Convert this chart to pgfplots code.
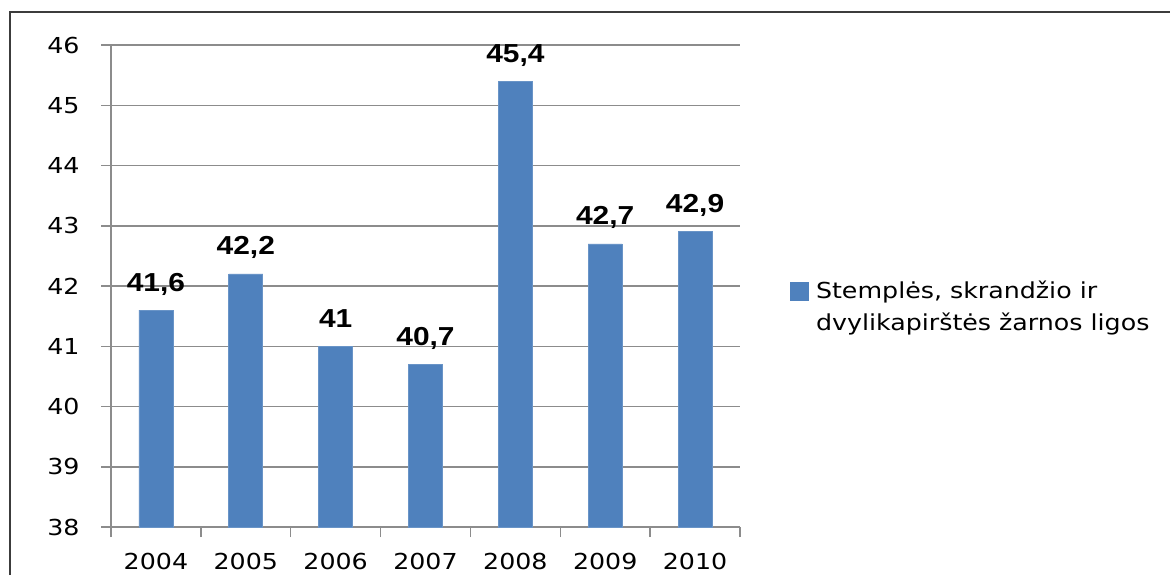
\documentclass[border=0pt]{standalone}
\usepackage{fontspec}
\setmainfont{DejaVu Sans}[FakeStretch=1.15]
\newfontfamily\lblfont{Liberation Sans}[FakeStretch=1.15]
\usepackage{pgfplots}
\pgfplotsset{compat=1.18}
\definecolor{barblue}{HTML}{4F81BD}
\definecolor{gridgray}{HTML}{8C8C8C}
\definecolor{framegray}{HTML}{3C3C3C}

\begin{document}
\begin{tikzpicture}
\begin{axis}[
  at={(55.5pt,24pt)}, anchor=south west,
  scale only axis, width=314.5pt, height=241pt,
  xmin=-0.5, xmax=6.5, ymin=38, ymax=46,
  axis lines=left, axis line style={-, draw=gridgray, line width=0.75pt},
  ybar, bar width=17pt,
  ytick={38,39,...,46},
  ymajorgrids, major grid style={draw=gridgray, line width=0.75pt},
  % ticks on the category boundaries, year labels centred between them
  xtick={-0.5,0.5,...,6.5},
  xticklabels={2004,2005,2006,2007,2008,2009,2010},
  x tick label as interval,
  tick style={draw=gridgray, line width=0.75pt},
  tick align=outside, major tick length=5pt,
  /pgf/number format/assume math mode=true,
  /pgf/number format/use comma,
  ticklabel style={font=\fontsize{11}{13}\selectfont, text=black},
  xticklabel style={anchor=base, inner sep=0pt, yshift=-16pt},
  yticklabel style={anchor=east, inner sep=0pt, xshift=-10.5pt},
  nodes near coords,
  every node near coord/.append style={font=\lblfont\bfseries\fontsize{13}{15}\selectfont,
    anchor=base, inner sep=0pt, yshift=9.5pt, text=black},
  legend style={at={(axis description cs:1.0795,0.512)}, anchor=north west,
    draw=none, fill=none, inner sep=0pt, row sep=0pt,
    font=\fontsize{11}{16}\selectfont,
    nodes={align=left, inner sep=0pt, text=black}},
  legend cell align=left,
  legend image code/.code={\fill[barblue] (0pt,3.5pt) rectangle (9pt,12.5pt);
    \path (12.5pt,5pt);},
  clip=false,
]
\addplot[fill=barblue, draw=barblue!85!white, line width=0.3pt] coordinates {
  (0,41.6) (1,42.2) (2,41) (3,40.7) (4,45.4) (5,42.7) (6,42.9)
};
\addlegendentry{Stemplės, skrandžio ir\\dvylikapirštės žarnos ligos}
\end{axis}
\draw[framegray, line width=1pt] (4.75pt,0pt) -- (4.75pt,281.75pt) -- (585pt,281.75pt);
\pgfresetboundingbox
\useasboundingbox (0pt,0pt) rectangle (585pt,287.5pt);
\end{tikzpicture}
\end{document}
